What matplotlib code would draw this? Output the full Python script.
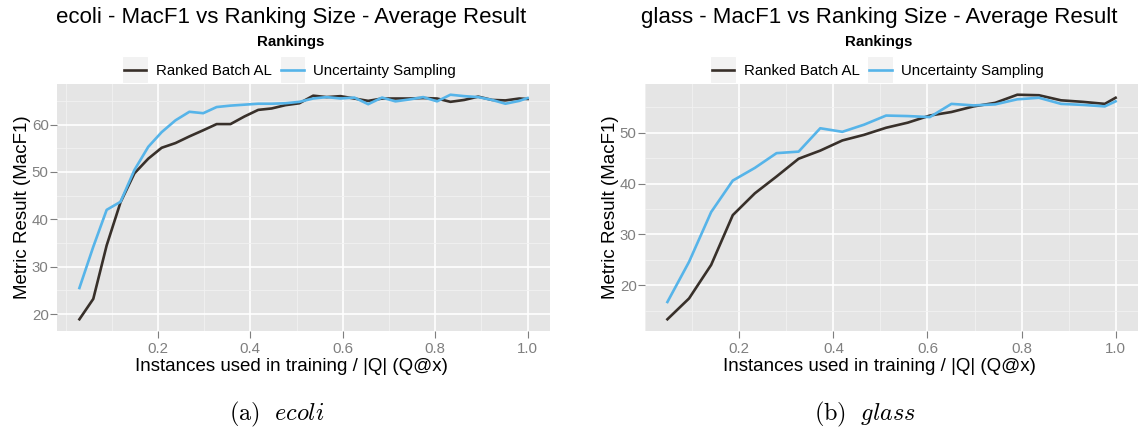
import numpy as np
import matplotlib
matplotlib.use("Agg")
import matplotlib.pyplot as plt
from matplotlib.patches import Rectangle
from matplotlib.lines import Line2D

plt.rcParams['font.family'] = ['Liberation Sans', 'DejaVu Sans']
plt.rcParams['mathtext.fontset'] = 'cm'

# ecoli data
ecoli_x = [0.030, 0.060, 0.089, 0.119, 0.149, 0.179, 0.208, 0.238, 0.268, 0.298,
           0.327, 0.357, 0.387, 0.417, 0.446, 0.476, 0.506, 0.536, 0.565, 0.595,
           0.625, 0.655, 0.685, 0.714, 0.744, 0.774, 0.804, 0.833, 0.863, 0.893,
           0.923, 0.952, 0.982, 1.000]
ecoli_rbal = [18.9, 23.2, 34.5, 43.6, 49.7, 52.8, 55.1, 56.1, 57.5, 58.8,
              60.1, 60.1, 61.7, 63.1, 63.4, 64.1, 64.5, 66.1, 65.8, 66.0,
              65.5, 65.0, 65.5, 65.5, 65.5, 65.6, 65.5, 64.8, 65.2, 65.9,
              65.2, 65.1, 65.5, 65.4]
ecoli_us = [25.5, 34.2, 42.0, 43.7, 50.4, 55.3, 58.4, 60.9, 62.7, 62.4,
            63.7, 64.0, 64.2, 64.4, 64.4, 64.5, 64.8, 65.5, 65.8, 65.5,
            65.7, 64.3, 65.7, 64.9, 65.3, 65.8, 64.9, 66.3, 66.0, 65.8,
            65.2, 64.4, 65.0, 65.6]

# glass data
glass_x = [0.047, 0.093, 0.140, 0.186, 0.233, 0.279, 0.326, 0.372, 0.419, 0.465,
           0.512, 0.558, 0.605, 0.651, 0.698, 0.744, 0.791, 0.837, 0.884, 0.930,
           0.977, 1.000]
glass_rbal = [13.3, 17.4, 24.0, 33.8, 38.1, 41.4, 44.9, 46.5, 48.5, 49.6,
              51.0, 52.0, 53.4, 54.1, 55.2, 55.9, 57.5, 57.4, 56.4, 56.1,
              55.7, 56.9]
glass_us = [16.7, 24.6, 34.4, 40.6, 43.1, 46.0, 46.3, 50.9, 50.2, 51.6,
            53.4, 53.3, 53.1, 55.7, 55.4, 55.6, 56.6, 56.9, 55.7, 55.5,
            55.2, 56.2]

series_names = ["Ranked Batch AL", "Uncertainty Sampling"]
series_colors = ["#38302a", "#56B4E9"]
x_ticks = [0.2, 0.4, 0.6, 0.8, 1.0]
x_ticklabels = ["0.2", "0.4", "0.6", "0.8", "1.0"]
x_minor = [0.0, 0.1, 0.3, 0.5, 0.7, 0.9]

panels = [
    dict(name="ecoli", cap="a", x=ecoli_x, ys=[ecoli_rbal, ecoli_us],
         yt=[20, 30, 40, 50, 60], ym=[25, 35, 45, 55, 65]),
    dict(name="glass", cap="b", x=glass_x, ys=[glass_rbal, glass_us],
         yt=[20, 30, 40, 50], ym=[15, 25, 35, 45, 55]),
]

W, H = 1139, 432
fig = plt.figure(figsize=(W / 100, H / 100), dpi=100)


def fx(px):
    return px / W


def fy(py):
    return 1 - py / H


grey = "#7f7f7f"
for i, p in enumerate(panels):
    off = 588 * i
    left, right, top, bot = 57 + off, 550 + off, 83.5, 330.5
    ax = fig.add_axes([fx(left), fy(bot), fx(right - left), (bot - top) / H])
    ax.set_facecolor("#E5E5E5")
    for s in ax.spines.values():
        s.set_visible(False)
    for k, y in enumerate(p["ys"]):
        ax.plot(p["x"], y, color=series_colors[k], lw=1.9, zorder=3)
    ax.set_xticks(x_ticks)
    ax.set_xticklabels(x_ticklabels)
    ax.set_xticks(x_minor, minor=True)
    ax.set_yticks(p["yt"])
    ax.set_yticks(p["ym"], minor=True)
    ax.grid(which="major", color="white", lw=1.2)
    ax.grid(which="minor", color="#F2F2F2", lw=0.6)
    ax.set_axisbelow(True)
    ax.tick_params(which="major", length=5, width=0.8, color=grey,
                   labelcolor=grey, labelsize=10.8)
    ax.tick_params(axis="x", pad=3)
    ax.tick_params(axis="y", pad=1)
    ax.tick_params(which="minor", length=0)

    cx = 291 + off
    fig.text(fx(cx), fy(22.7), p["name"] + " - MacF1 vs Ranking Size - Average Result",
             ha="center", va="baseline", fontsize=16)
    fig.text(fx(cx), fy(46), "Rankings", ha="center", va="baseline",
             fontsize=10.8, fontweight="bold")
    fig.text(fx(cx), fy(370.7), "Instances used in training / |Q| (Q@x)",
             ha="center", va="baseline", fontsize=13.5)
    fig.text(fx(22.7 + off), fy((top + bot) / 2), "Metric Result (MacF1)",
             ha="center", va="center", rotation=90, fontsize=13.5)
    fig.text(fx(276.7 + off), fy(420.7),
             r"$\mathrm{(" + p["cap"] + r")}\ \ \mathit{" + p["name"] + "}$",
             ha="center", va="baseline", fontsize=17.5)

    # legend keys
    keys_x = [122.4 + off, 279.5 + off]
    for k in range(2):
        kx = keys_x[k]
        fig.patches.append(Rectangle((fx(kx), fy(83.3)), fx(25.6), 27.3 / H,
                                     transform=fig.transFigure, facecolor="#F2F2F2",
                                     edgecolor="white", lw=0.8))
        fig.lines.append(Line2D([fx(kx + 1.6), fx(kx + 24)], [fy(69.7), fy(69.7)],
                                transform=fig.transFigure, color=series_colors[k], lw=1.9))
        fig.text(fx(kx + 33.6), fy(75.3), series_names[k], ha="left",
                 va="baseline", fontsize=10.8)

fig.savefig("out.png", dpi=100)
